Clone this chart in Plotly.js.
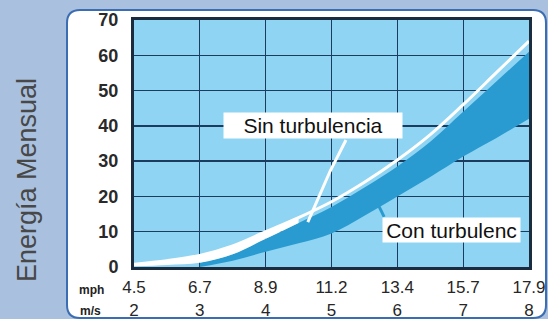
<!DOCTYPE html>
<html>
<head>
<meta charset="utf-8">
<script src="https://cdn.plot.ly/plotly-3.0.1.min.js"></script>
<style>html,body{margin:0;padding:0;background:#a9c1de;}#chart{width:548px;height:319px;}</style>
</head>
<body>
<div id="chart"></div>
<script>
// ---- data (wind speed in m/s, monthly energy) ----
var speeds      = [2, 2.5, 3, 3.5, 4, 4.5, 5, 5.5, 6, 6.5, 7, 7.5, 8];
var sinTurb     = [0.8, 1.8, 3.3, 6.0, 10.0, 14.0, 18.5, 24.0, 30.3, 37.5, 46.0, 55.0, 64.0];
var speedsCon   = [3, 3.5, 4, 4.5, 5, 5.5, 6, 6.5, 7, 7.5, 8];
var conTurbMax  = [1.2, 3.6, 8.0, 12.5, 17.0, 22.5, 28.5, 35.5, 44.0, 52.5, 61.0];
var conTurbMin  = [0.0, 1.8, 4.3, 6.7, 9.5, 14.5, 20.0, 25.5, 31.3, 36.5, 42.0];
var speedsGlow  = [2, 2.5, 3, 3.5, 4, 4.5];
var glowLow     = [0.2, 0.6, 1.2, 3.6, 8.0, 12.5];
var glowHigh    = [0.8, 1.8, 3.3, 6.0, 10.0, 14.0];
var tickMs      = [2, 3, 4, 5, 6, 7, 8];
var tickMsText  = ['2', '3', '4', '5', '6', '7', '8'];
var tickMphText = ['4.5', '6.7', '8.9', '11.2', '13.4', '15.7', '17.9'];
var tickY       = [0, 10, 20, 30, 40, 50, 60, 70];

// ---- geometry helpers (pixel -> paper) ----
var W = 548, H = 319, ML = 134, MR = 19, MT = 20, MB = 21;
var PW = W - ML - MR, PH = H - MT - MB;
function px(x){ return (x - ML) / PW; }
function py(y){ return (H - MB - y) / PH; }
var yDomStart = py(267);

function roundRect(x0, y0, x1, y1, r){
  var p = '';
  p += 'M' + px(x0 + r) + ',' + py(y0);
  p += ' L' + px(x1 - r) + ',' + py(y0);
  p += ' Q' + px(x1) + ',' + py(y0) + ' ' + px(x1) + ',' + py(y0 + r);
  p += ' L' + px(x1) + ',' + py(y1 - r);
  p += ' Q' + px(x1) + ',' + py(y1) + ' ' + px(x1 - r) + ',' + py(y1);
  p += ' L' + px(x0 + r) + ',' + py(y1);
  p += ' Q' + px(x0) + ',' + py(y1) + ' ' + px(x0) + ',' + py(y1 - r);
  p += ' L' + px(x0) + ',' + py(y0 + r);
  p += ' Q' + px(x0) + ',' + py(y0) + ' ' + px(x0 + r) + ',' + py(y0) + ' Z';
  return p;
}

var FONT = 'Liberation Sans, Arial, Helvetica, sans-serif';
var DARK = '#2a9bd0';
var LIGHT = '#8fd4f3';

var traces = [
  {x: speedsCon, y: conTurbMin, mode: 'lines', line: {width: 0, shape: 'spline'}, hoverinfo: 'skip', showlegend: false},
  {x: speedsCon, y: conTurbMax, mode: 'lines', line: {width: 0, shape: 'spline'}, fill: 'tonexty', fillcolor: DARK, hoverinfo: 'skip', showlegend: false},
  {x: speedsGlow, y: glowLow, mode: 'lines', line: {width: 0, shape: 'spline'}, hoverinfo: 'skip', showlegend: false},
  {x: speedsGlow, y: glowHigh, mode: 'lines', line: {width: 0, shape: 'spline'}, fill: 'tonexty', fillcolor: '#ffffff', hoverinfo: 'skip', showlegend: false},
  {x: speeds, y: sinTurb, mode: 'lines', line: {width: 3, color: '#ffffff', shape: 'spline'}, hoverinfo: 'skip', showlegend: false},
  // empty carrier so the m/s axis is drawn
  {x: [], y: [], xaxis: 'x2', yaxis: 'y', mode: 'lines', hoverinfo: 'skip', showlegend: false}
];

var layout = {
  width: W, height: H,
  margin: {l: ML, r: MR, t: MT, b: MB, pad: 0},
  paper_bgcolor: '#a9c1de',
  plot_bgcolor: LIGHT,
  showlegend: false,
  font: {family: FONT, color: '#222'},
  xaxis: {
    range: [2, 8], tickmode: 'array', tickvals: tickMs, ticktext: tickMphText,
    showgrid: true, gridcolor: '#1b3c5e', gridwidth: 1.3,
    showline: true, mirror: true, linecolor: '#1b2c3f', linewidth: 3,
    ticks: '', ticklabelstandoff: 3, zeroline: false,
    tickfont: {family: FONT, size: 17, color: '#262626'},
    anchor: 'y', fixedrange: true
  },
  xaxis2: {
    range: [2, 8], tickmode: 'array', tickvals: tickMs, ticktext: tickMsText,
    overlaying: 'x', anchor: 'free', position: 0, side: 'bottom',
    showgrid: false, showline: false, zeroline: false, ticks: '',
    ticklabelstandoff: 0,
    tickfont: {family: FONT, size: 17, color: '#262626'},
    fixedrange: true
  },
  yaxis: {
    range: [0, 70], domain: [yDomStart, 1], tickmode: 'array', tickvals: tickY,
    showgrid: true, gridcolor: '#1b3c5e', gridwidth: 1.3,
    showline: true, mirror: true, linecolor: '#1b2c3f', linewidth: 3,
    ticks: '', ticklabelstandoff: 9, zeroline: false,
    tickfont: {family: FONT, size: 18, color: '#2a2a2a', weight: 'bold'},
    fixedrange: true
  },
  shapes: [
    {type: 'path', xref: 'paper', yref: 'paper', layer: 'below',
     path: roundRect(67, 10, 546, 318, 13),
     fillcolor: '#ffffff', line: {color: '#3b6db2', width: 2}},
    {type: 'rect', xref: 'x domain', yref: 'y domain', x0: 0, x1: 1, y0: 0, y1: 1,
     layer: 'below', fillcolor: LIGHT, line: {width: 0}},
    {type: 'path', xref: 'x', yref: 'y', layer: 'above',
     path: 'M5.22,36 L4.98,27.2 L4.64,12.7', line: {color: '#ffffff', width: 3}},
    {type: 'line', xref: 'x', yref: 'y', layer: 'above',
     x0: 5.71, y0: 17.6, x1: 5.80, y1: 14.2, line: {color: DARK, width: 3}}
  ],
  annotations: [
    {text: 'Sin turbulencia', xref: 'x', yref: 'y', x: 4.72, y: 40, showarrow: false,
     bgcolor: '#ffffff', width: 178, height: 25, borderpad: 0,
     font: {family: FONT, size: 21, color: '#111'}},
    {text: 'Con turbulenc', xref: 'x', yref: 'y', x: 6.82, y: 10.5, showarrow: false,
     bgcolor: '#ffffff', width: 137, height: 24, borderpad: 0,
     font: {family: FONT, size: 21, color: '#111'}},
    {text: 'Energía Mensual', xref: 'paper', yref: 'paper', x: px(27), y: py(180),
     textangle: -90, showarrow: false, xanchor: 'center', yanchor: 'middle',
     font: {family: FONT, size: 27, color: '#484848'}},
    {text: '<b>mph</b>', xref: 'paper', yref: 'paper', x: px(91), y: py(290),
     showarrow: false, xanchor: 'center', yanchor: 'middle',
     font: {family: FONT, size: 12, color: '#222'}},
    {text: '<b>m/s</b>', xref: 'paper', yref: 'paper', x: px(90), y: py(311),
     showarrow: false, xanchor: 'center', yanchor: 'middle',
     font: {family: FONT, size: 12, color: '#222'}}
  ]
};

Plotly.newPlot('chart', traces, layout, {staticPlot: true, displayModeBar: false});
</script>
</body>
</html>
